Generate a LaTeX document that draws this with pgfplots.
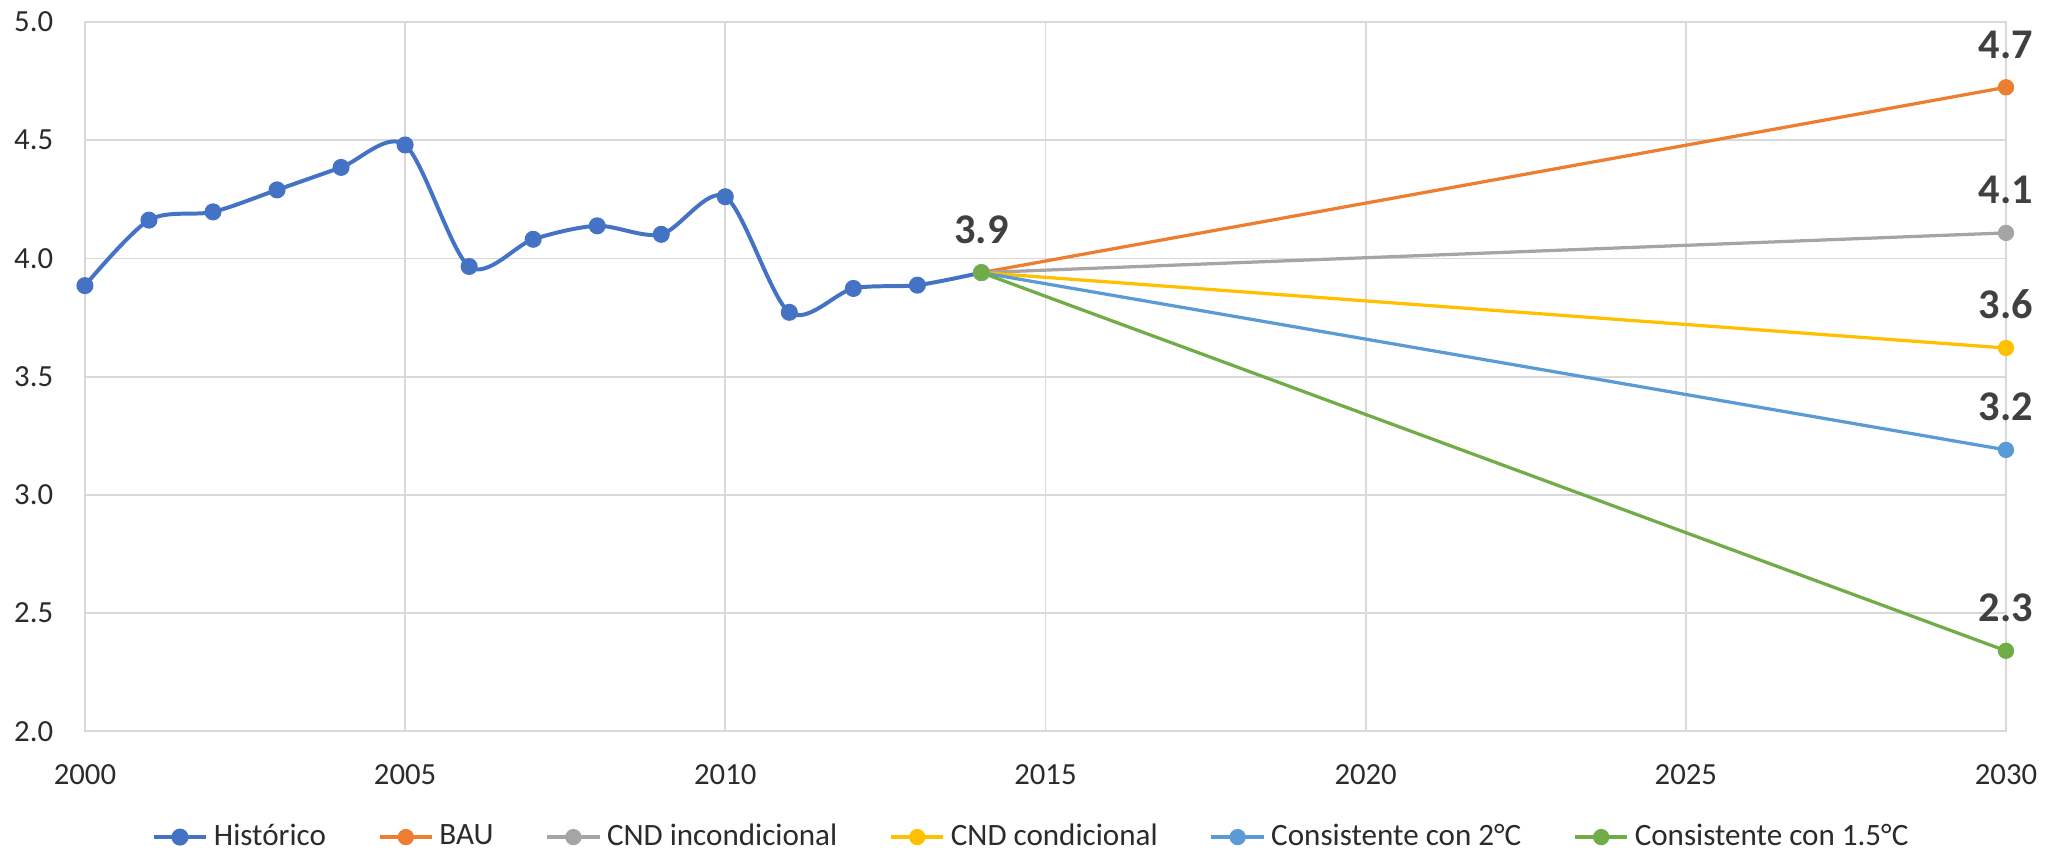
\documentclass[border=0pt]{standalone}
\usepackage{fontspec}
\setmainfont{Carlito}
\usepackage{pgfplots}
\pgfplotsset{compat=1.18}

\definecolor{histc}{HTML}{4472C4}
\definecolor{bau}{HTML}{ED7D31}
\definecolor{incond}{HTML}{A5A5A5}
\definecolor{cond}{HTML}{FFC000}
\definecolor{dosc}{HTML}{5B9BD5}
\definecolor{unoc}{HTML}{70AD47}
\definecolor{gridc}{HTML}{D9D9D9}
\definecolor{lbl}{HTML}{404040}
\definecolor{tickc}{HTML}{2B2B2B}

\begin{document}
\begin{tikzpicture}
\begin{axis}[
  name=ax, at={(0,0)}, anchor=south west,
  scale only axis, width=531.5pt, height=196.2pt,
  xmin=2000, xmax=2030, ymin=2, ymax=5,
  xtick={2000,2005,...,2030}, ytick={2,2.5,...,5},
  grid=major, grid style={gridc, line width=0.5pt},
  axis line style={gridc, line width=0.5pt},
  major tick length=0pt,
  /pgf/number format/assume math mode=true,
  tick label style={font=\fontsize{8.5}{10}\selectfont, text=tickc},
  xticklabel style={/pgf/number format/1000 sep={}, anchor=base, inner sep=0pt, yshift=-14.7pt},
  yticklabel style={/pgf/number format/fixed, /pgf/number format/fixed zerofill,
    /pgf/number format/precision=1, anchor=east, inner sep=0pt, xshift=-8.6pt},
  legend columns=6,
  legend style={at={(0.492,0)}, anchor=center, yshift=-29.3pt, draw=none, fill=none,
    font=\fontsize{8.6}{10}\selectfont, text=tickc, inner sep=0pt,
    nodes={inner sep=0pt},
    /tikz/every odd column/.append style={column sep=1.6pt},
    /tikz/every even column/.append style={column sep=14.4pt}},
  legend cell align=left,
  legend image code/.code={\draw[mark repeat=2, mark phase=2, #1]
    plot coordinates {(0pt,0pt) (7.25pt,0pt) (14.5pt,0pt)};},
  every axis plot/.append style={mark=*, mark size=1.8pt},
]
% Historico
\addplot[histc, line width=1.1pt, smooth, mark options={fill=histc, draw=histc}] coordinates {
  (2000,3.885) (2001,4.162) (2002,4.197) (2003,4.290) (2004,4.385)
  (2005,4.480) (2006,3.966) (2007,4.081) (2008,4.138) (2009,4.102)
  (2010,4.261) (2011,3.772) (2012,3.873) (2013,3.887) (2014,3.940)
};
\addlegendentry{Histórico}
\addplot[bau, line width=0.9pt, mark options={fill=bau, draw=bau}] coordinates {
  (2014,3.940) (2030,4.724)
};
\addlegendentry{BAU}
\addplot[incond, line width=0.9pt, mark options={fill=incond, draw=incond}] coordinates {
  (2014,3.940) (2030,4.108)
};
\addlegendentry{CND incondicional}
\addplot[cond, line width=0.9pt, mark options={fill=cond, draw=cond}] coordinates {
  (2014,3.940) (2030,3.621)
};
\addlegendentry{CND condicional}
\addplot[dosc, line width=0.9pt, mark options={fill=dosc, draw=dosc}] coordinates {
  (2014,3.940) (2030,3.190)
};
\addlegendentry{Consistente con 2°C}
\addplot[unoc, line width=0.9pt, mark options={fill=unoc, draw=unoc}] coordinates {
  (2014,3.940) (2030,2.340)
};
\addlegendentry{Consistente con 1.5°C}
% value labels
\addplot[draw=none, mark=none, forget plot, point meta=explicit symbolic,
  nodes near coords,
  every node near coord/.append style={anchor=base, yshift=8.1pt, inner sep=0pt,
    font=\fontsize{11.7}{14}\selectfont\bfseries, text=lbl}] coordinates {
  (2014,3.940)[3.9] (2030,4.724)[4.7] (2030,4.108)[4.1]
  (2030,3.621)[3.6] (2030,3.190)[3.2] (2030,2.340)[2.3]
};
\end{axis}
\pgfresetboundingbox
\useasboundingbox (-23.5pt,-33.5pt) rectangle (543.4pt,202.3pt);
\end{tikzpicture}
\end{document}
